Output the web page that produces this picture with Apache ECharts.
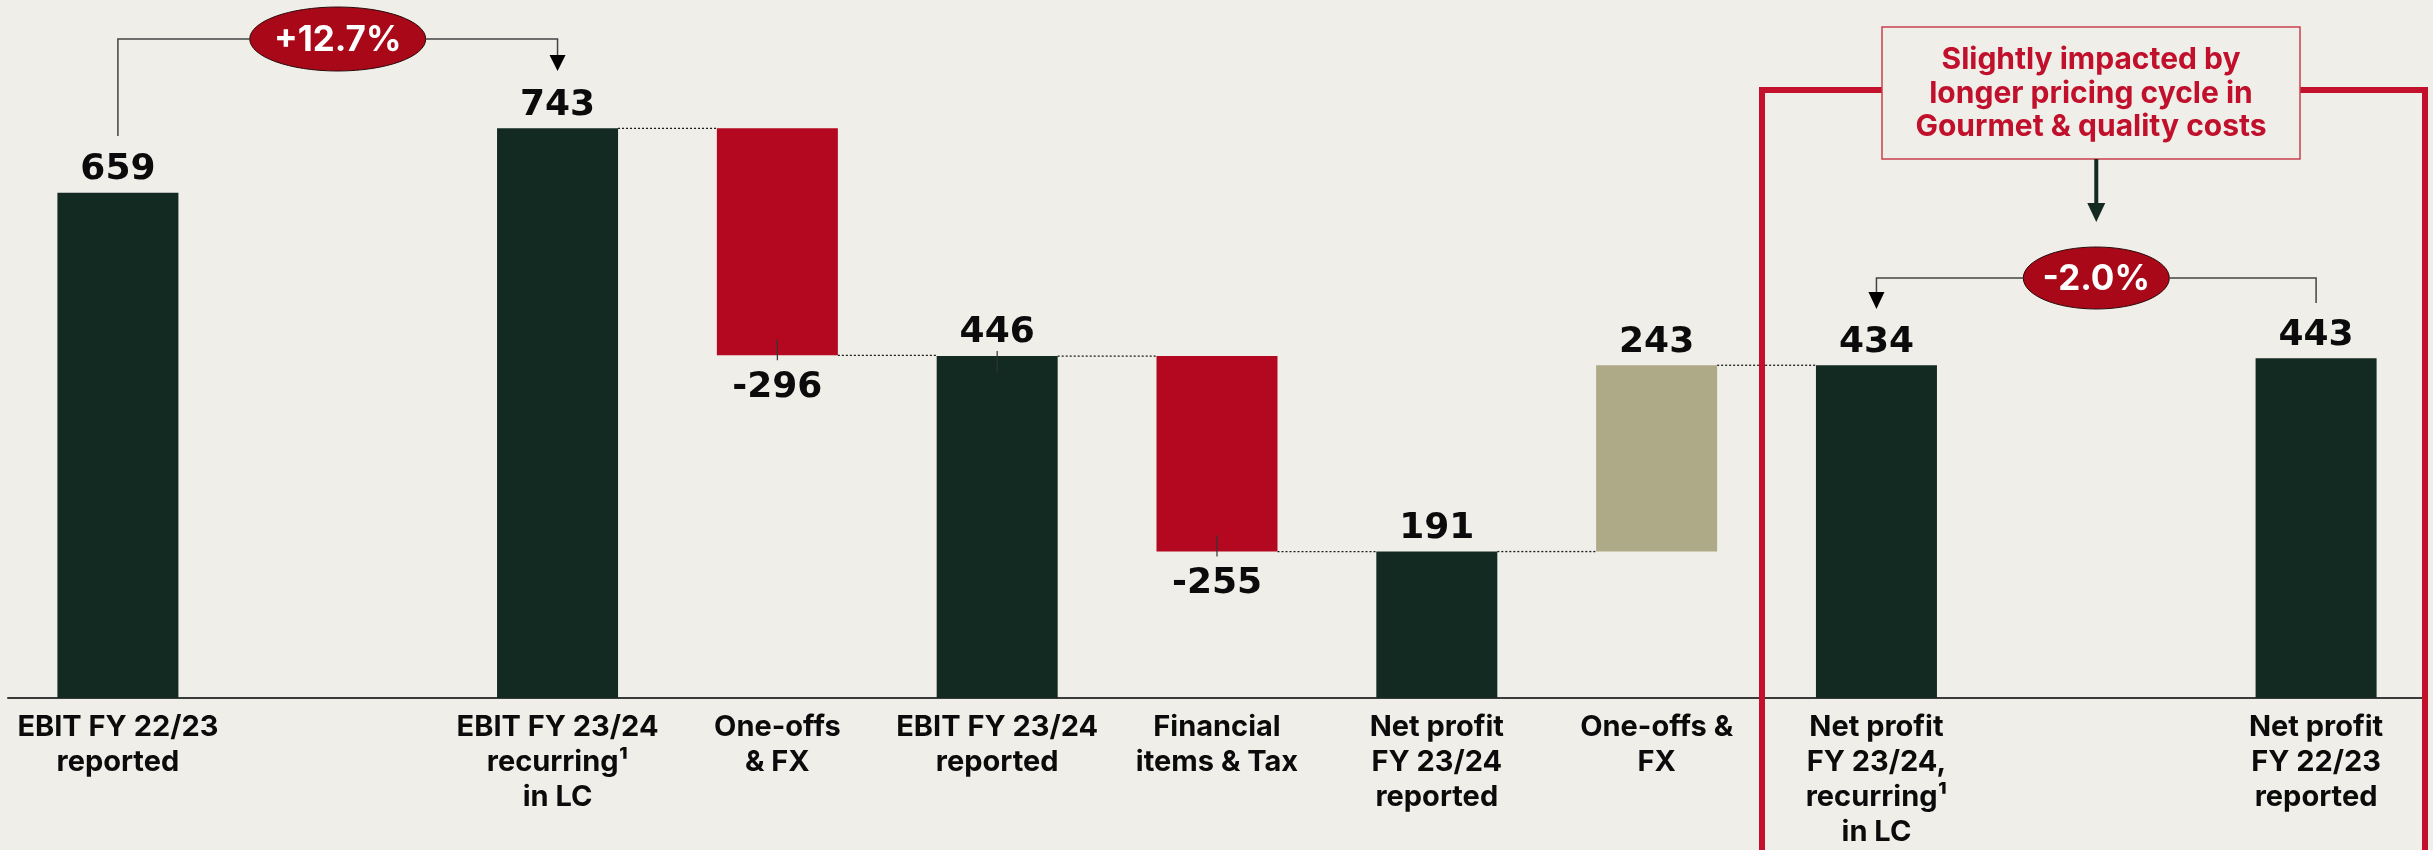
<!DOCTYPE html>
<html><head><meta charset="utf-8">
<script src="https://cdn.jsdelivr.net/npm/echarts@6/dist/echarts.min.js"></script>
<style>html,body{margin:0;padding:0;background:#EFEEE8}#c{width:2433px;height:850px}</style>
</head><body><div id="c"></div>
<script>
const categories = ['EBIT FY 22/23\nreported', '', 'EBIT FY 23/24\nrecurring¹\nin LC', 'One-offs\n& FX', 'EBIT FY 23/24\nreported', 'Financial\nitems & Tax', 'Net profit\nFY 23/24\nreported', 'One-offs &\nFX', 'Net profit\nFY 23/24,\nrecurring¹\nin LC', '', 'Net profit\nFY 22/23\nreported'];
const values = [659, null, 743, -296, 446, -255, 191, 243, 434, null, 443];
const kinds = ['total', null, 'total', 'delta', 'total', 'delta', 'total', 'delta', 'total', null, 'total'];
const growthLabels = ['+12.7%', '-2.0%'];
const noteLines = ['Slightly impacted by', 'longer pricing cycle in', 'Gourmet & quality costs'];
const tickIdx = [3, 4, 5];

const GREEN = '#122A22', RED = '#B30820', BEIGE = '#AEA987', BG = '#EFEEE8';
const FONT = 'Inter';
const NUMFONT = 'DejaVu Sans';

// waterfall geometry derived from values
const base = [], height = [], ends = [];
let run = 0;
values.forEach((v, i) => {
  if (v === null) { base.push(null); height.push(null); ends.push(null); return; }
  if (kinds[i] === 'total') { base.push(0); height.push(v); run = v; }
  else { base.push(Math.min(run, run + v)); height.push(Math.abs(v)); run += v; }
  ends.push(run);
});
const connectors = [];
for (let i = 2; i < 8; i++) connectors.push([i, ends[i]]);

const chart = echarts.init(document.getElementById('c'));
const option = {
  backgroundColor: BG,
  animation: false,
  grid: { left: 8, right: 7, top: 8, bottom: 148 },
  xAxis: {
    type: 'category', data: categories,
    axisLine: { lineStyle: { color: '#3a3a3a', width: 2 } },
    axisTick: { show: false },
    axisLabel: { interval: 0, fontFamily: FONT, fontWeight: 700, fontSize: 29, lineHeight: 35, color: '#0b0b0b', margin: 12 }
  },
  yAxis: { type: 'value', min: 0, max: 900, show: false, splitLine: { show: false } },
  series: [
    { type: 'bar', stack: 'w', data: base, itemStyle: { color: 'transparent' }, barWidth: 121, silent: true },
    {
      type: 'bar', stack: 'w', barWidth: 121,
      data: height.map((h, i) => h === null ? null : {
        value: h,
        itemStyle: { color: kinds[i] === 'total' ? GREEN : (values[i] < 0 ? RED : BEIGE) },
        label: (kinds[i] === 'delta' && values[i] < 0) ? { position: 'bottom', distance: 14 } : { position: 'top', distance: 5 }
      }),
      label: {
        show: true, fontFamily: NUMFONT, fontWeight: 700, fontSize: 36, color: '#0b0b0b',
        formatter: p => String(values[p.dataIndex])
      }
    },
    {
      type: 'custom', data: connectors, z: 5, silent: true,
      renderItem: (params, api) => {
        const p = api.coord([api.value(0), api.value(1)]);
        const band = api.size([1, 0])[0];
        return { type: 'line', shape: { x1: p[0] + 60.5, y1: p[1], x2: p[0] + band - 60.5, y2: p[1] },
          style: { stroke: '#1a1a1a', lineWidth: 1.3, lineDash: [2, 2] } };
      }
    },
    {
      type: 'custom', z: 5, silent: true,
      data: tickIdx.map(i => [i, kinds[i] === 'total' ? ends[i] : base[i]]),
      renderItem: (params, api) => {
        const i = api.value(0);
        const p = api.coord([i, api.value(1)]);
        const off = kinds[i] === 'total' ? [-5, 16] : [-16, 5];
        return { type: 'line', shape: { x1: p[0], y1: p[1] + off[0], x2: p[0], y2: p[1] + off[1] },
          style: { stroke: '#333', lineWidth: 1.2 } };
      }
    }
  ]
};
chart.setOption(option);

const cx = i => chart.convertToPixel({ xAxisIndex: 0 }, i);
const x0 = cx(0), x1 = cx(1), x2 = cx(2), x8 = cx(8), x9 = cx(9), x10 = cx(10);
const lineStyle = { stroke: '#444', lineWidth: 1.5, fill: null };
const ellipseTxt = (x, y, rx, ry, t) => ({
  type: 'group', children: [
    { type: 'ellipse', shape: { cx: x, cy: y, rx: rx, ry: ry }, style: { fill: '#A90818', stroke: '#2a0a0a', lineWidth: 1 } },
    { type: 'text', x: x, y: y + 1, style: { text: t, fill: '#fff', font: `700 35px ${FONT}`, align: 'center', verticalAlign: 'middle' } }
  ]
});
const g = [
  // +12.7% bracket
  { type: 'polyline', shape: { points: [[x0, 136], [x0, 39], [x1 - 88, 39]] }, style: lineStyle },
  { type: 'polyline', shape: { points: [[x1 + 88, 39], [x2, 39], [x2, 57]] }, style: lineStyle },
  { type: 'polygon', shape: { points: [[x2 - 8, 55], [x2 + 8, 55], [x2, 71]] }, style: { fill: '#000' } },
  ellipseTxt(x1, 39, 88, 32, growthLabels[0]),
  // red frame
  { type: 'polyline', shape: { points: [[1762, 850], [1762, 90], [2425, 90], [2425, 850]] }, style: { stroke: '#C3102B', lineWidth: 6, fill: null } },
  // note box
  { type: 'rect', shape: { x: 1882, y: 27, width: 418, height: 132 }, style: { fill: BG, stroke: '#C9404C', lineWidth: 1.5 } },
  ...noteLines.map((t, k) => ({ type: 'text', x: 2091, y: 60 + k * 33.5, style: { text: t, fill: '#C0102C', font: `700 30px ${FONT}`, align: 'center', verticalAlign: 'middle' } })),
  { type: 'line', shape: { x1: x9, y1: 159, x2: x9, y2: 206 }, style: { stroke: GREEN, lineWidth: 4 } },
  { type: 'polygon', shape: { points: [[x9 - 9, 203], [x9 + 9, 203], [x9, 222]] }, style: { fill: GREEN } },
  // -2.0% bracket
  { type: 'polyline', shape: { points: [[x9 - 73, 278], [x8, 278], [x8, 294]] }, style: lineStyle },
  { type: 'polygon', shape: { points: [[x8 - 8, 292], [x8 + 8, 292], [x8, 309]] }, style: { fill: '#000' } },
  { type: 'polyline', shape: { points: [[x9 + 73, 278], [x10, 278], [x10, 303]] }, style: lineStyle },
  ellipseTxt(x9, 278, 73, 31, growthLabels[1])
];
chart.setOption({ graphic: { elements: g.map(e => Object.assign({ z: 100 }, e)) } });
</script></body></html>
